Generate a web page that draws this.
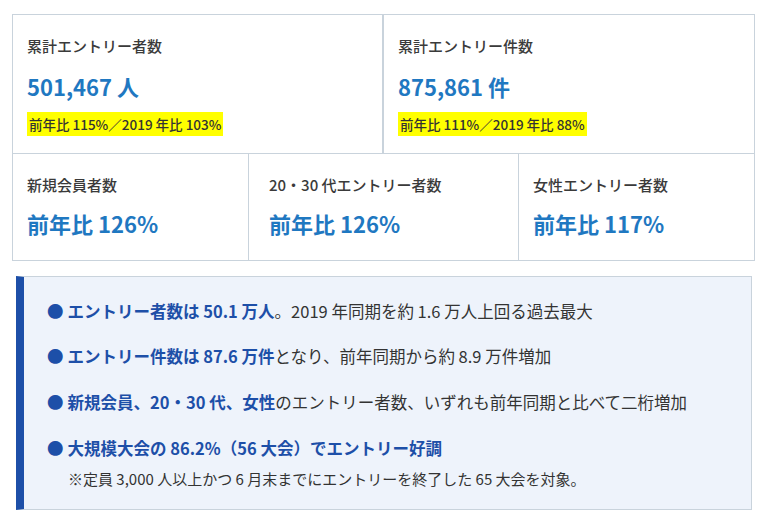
<!DOCTYPE html>
<html><head><meta charset="utf-8">
<script src="https://cdn.jsdelivr.net/npm/chart.js@4"></script>
<style>
body{margin:0;width:768px;height:523px;background:#fff;font-family:"Noto Sans CJK JP","Noto Sans",sans-serif;color:#333;position:relative;overflow:hidden}
.cell{position:absolute;border:1px solid #c9d3dc;box-sizing:border-box;padding:0 0 0 14px}
.t{font-size:15px;margin-top:20px;font-weight:500;color:#3a3a3a}
.v{font-size:22px;color:#1f78c1;font-weight:700;margin-top:14px}
.h{display:inline-block;background:#ffff00;font-size:13.5px;margin-top:10px;padding:2px 2px;font-weight:500}
.box{position:absolute;left:16px;top:276px;width:736px;height:234px;background:#eef3fb;border:1px solid #c9d3dc;border-left:8px solid #1d4fa8;box-sizing:border-box}
.li{position:absolute;font-size:16.5px;color:#333;white-space:nowrap}
.li b{color:#1d4fa8;font-weight:700}
.dot{color:#1d4fa8;margin-right:4px}
</style></head><body>
<div id="root"></div>
<script>
// 上段の数字
const topTitles = ["累計エントリー者数", "累計エントリー件数"];
const topValues = ["501,467 人", "875,861 件"];
const topNotes = ["前年比 115%／2019 年比 103%", "前年比 111%／2019 年比 88%"];
// 下段の前年比
const midTitles = ["新規会員者数", "20・30 代エントリー者数", "女性エントリー者数"];
const midValues = [126, 126, 117];
// 箇条書き
const bulletBold = ["エントリー者数は 50.1 万人", "エントリー件数は 87.6 万件", "新規会員、20・30 代、女性", "大規模大会の 86.2%（56 大会）でエントリー好調"];
const bulletRest = ["。2019 年同期を約 1.6 万人上回る過去最大", "となり、前年同期から約 8.9 万件増加", "のエントリー者数、いずれも前年同期と比べて二桁増加", ""];
const footNote = "※定員 3,000 人以上かつ 6 月末までにエントリーを終了した 65 大会を対象。";

const root = document.getElementById("root");
let html = "";
const topX = [12, 383], topW = [371, 372];
topTitles.forEach((t, i) => {
  html += `<div class="cell" style="left:${topX[i]}px;top:14px;width:${topW[i]}px;height:140px">
    <div class="t">${t}</div><div class="v">${topValues[i]}</div><div class="h">${topNotes[i]}</div></div>`;
});
const midX = [12, 248, 518], midW = [237, 271, 237];
midTitles.forEach((t, i) => {
  html += `<div class="cell" style="left:${midX[i]}px;top:153px;width:${midW[i]}px;height:108px;${i==1?'padding-left:20px':''}">
    <div class="t">${t}</div><div class="v" style="margin-top:12px">前年比 ${midValues[i]}%</div></div>`;
});
html += `<div class="box"></div>`;
const ys = [299, 344, 390, 436];
bulletBold.forEach((b, i) => {
  html += `<div class="li" style="left:47px;top:${ys[i]}px"><span class="dot">●</span><b>${b}</b>${bulletRest[i]}</div>`;
});
html += `<div class="li" style="left:68px;top:468px;font-size:15px">${footNote}</div>`;
root.innerHTML = html;
</script>
</body></html>
